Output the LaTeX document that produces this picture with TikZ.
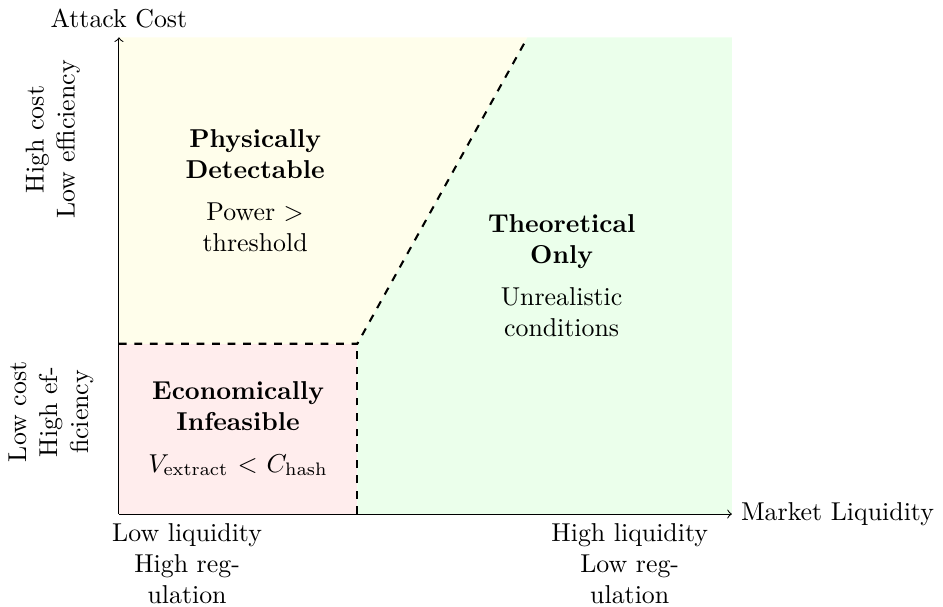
\documentclass[tikz,border=0pt]{standalone}
\begin{document}
\begin{tikzpicture}[x=0.926cm, y=0.926cm,
        region/.style={align=center, text width=2.8cm},
        side/.style={align=center, text width=2.2cm},
        boundary/.style={thick, dashed}]

    \useasboundingbox (-1.747,-1.351) rectangle (12.1,7.548);

    % Regions
    \fill[red!7] (0,0) rectangle (3.5,2.5);
    \fill[yellow!8] (0,2.5) -- (3.5,2.5) -- (6,7) -- (0,7) -- cycle;
    \fill[green!8] (3.5,0) -- (9,0) -- (9,7) -- (6,7) -- (3.5,2.5) -- cycle;

    % Axes
    \coordinate (O) at (0,0);
    \coordinate (xmax) at (9,0);
    \coordinate (ymax) at (0,7);
    \draw[->] (O) -- (xmax) node[right] (xlabel) {Market Liquidity};
    \draw[->] (O) -- (ymax) node[above] (ylabel) {Attack Cost};

    % Boundaries
    \coordinate (left) at (0,2.5);
    \coordinate (corner) at (3.5,2.5);
    \coordinate (foot) at (3.5,0);
    \coordinate (top) at (6,7);
    \draw[boundary] (left) -- (corner) -- (top);
    \draw[boundary] (foot) -- (corner);

    % Region labels
    \node[region] (detect) at (2,4.75)
        {\textbf{Physically Detectable}\\[4pt] Power $>$ threshold};
    \node[region] (theory) at (6.5,3.5)
        {\textbf{Theoretical Only}\\[4pt] Unrealistic conditions};
    \node[region] (infeas) at (1.75,1.25)
        {\textbf{Economically Infeasible}\\[4pt] $V_{\mathrm{extract}} < C_{\mathrm{hash}}$};

    % Axis ends
    \node[side, below] (lowliq) at (1,0) {Low liquidity\\High regulation};
    \node[side, below] (highliq) at (7.5,0) {High liquidity\\Low regulation};
    \node[side, rotate=90] (highcost) at (-0.97,5.5) {High cost\\Low efficiency};
    \node[side, rotate=90] (lowcost) at (-1,1.5) {Low cost\\High efficiency};

\end{tikzpicture}
\end{document}
